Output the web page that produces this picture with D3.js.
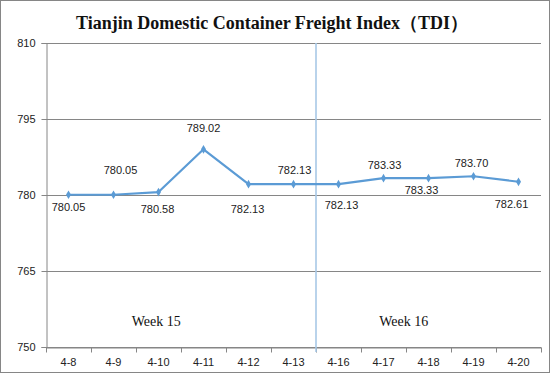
<!DOCTYPE html>
<html><head><meta charset="utf-8">
<script src="https://cdn.jsdelivr.net/npm/d3@7"></script>
<style>body{margin:0;background:#fff}svg{display:block}</style>
</head><body>
<svg id="c" width="552" height="377"></svg>
<script>
const categories = ["4-8","4-9","4-10","4-11","4-12","4-13","4-16","4-17","4-18","4-19","4-20"];
const values = [780.05,780.05,780.58,789.02,782.13,782.13,782.13,783.33,783.33,783.70,782.61];
const labelText = ["780.05","780.05","780.58","789.02","782.13","782.13","782.13","783.33","783.33","783.70","782.61"];
const yTicks = [750,765,780,795,810];
const weekLabels = ["Week 15","Week 16"];
const title = "Tianjin Domestic Container Freight Index（TDI）";
// label placement (pixels relative to point)
const labelDx = [0,7,-1,0,-1,1,3,1,-7,-2,-7];
const labelDy = [12,-25,17,-21,25,-14,21,-13,12,-13,22];

const svg = d3.select("#c");
const W=552,H=377;
const m={l:46,r:11,t:43,b:30};
svg.append("rect").attr("x",0.5).attr("y",0.5).attr("width",549).attr("height",372)
  .attr("fill","#fff").attr("stroke","#868686");

const x = d3.scaleBand().domain(categories).range([m.l, W-m.r]).padding(0);
const y = d3.scaleLinear().domain([750,810]).range([H-m.b, m.t]);

// gridlines
svg.append("g").selectAll("line").data(yTicks).join("line")
  .attr("x1",m.l).attr("x2",W-m.r).attr("y1",d=>Math.round(y(d))+0.5).attr("y2",d=>Math.round(y(d))+0.5)
  .attr("stroke","#868686").attr("stroke-width",1);

// y axis
const ya = svg.append("g").attr("transform",`translate(${m.l+0.5},0)`)
  .call(d3.axisLeft(y).tickValues(yTicks).tickSize(5).tickPadding(6).tickFormat(d3.format("d")));
ya.select(".domain").attr("stroke","#868686");
ya.selectAll(".tick line").attr("stroke","#868686");
ya.selectAll("text").attr("font-family","'Liberation Sans',Arial,sans-serif").attr("font-size",11).attr("fill","#222");
ya.selectAll(".tick").attr("transform",d=>`translate(0,${Math.round(y(d))+0.5})`);

// x axis
const xa = svg.append("g").attr("transform",`translate(0,${Math.round(y(750))+0.5})`)
  .call(d3.axisBottom(x).tickSize(0).tickPadding(11));
xa.select(".domain").attr("stroke","#868686");
xa.selectAll("text").attr("font-family","'Liberation Sans',Arial,sans-serif").attr("font-size",11).attr("fill","#222");
const bounds = categories.map(c=>x(c)).concat([x(categories[categories.length-1])+x.bandwidth()]);
xa.selectAll(".bt").data(bounds).join("line").attr("class","bt")
  .attr("x1",d=>Math.round(d)+0.5).attr("x2",d=>Math.round(d)+0.5).attr("y1",0).attr("y2",5)
  .attr("stroke","#868686");

// week divider
const divX = x("4-16");
svg.append("line").attr("x1",divX).attr("x2",divX).attr("y1",m.t).attr("y2",y(750)+5)
  .attr("stroke","#a8c8e6").attr("stroke-width",1.6);

// line
const cx = d=>x(d)+x.bandwidth()/2;
const pts = categories.map((c,i)=>[cx(c), y(values[i])]);
svg.append("path").attr("d",d3.line()(pts)).attr("fill","none")
  .attr("stroke","#5b9bd5").attr("stroke-width",2.2).attr("stroke-linejoin","round");
svg.append("g").selectAll("path").data(pts).join("path")
  .attr("transform",d=>`translate(${d[0]},${d[1]})`)
  .attr("d",d3.symbol(d3.symbolDiamond,22)())
  .attr("fill","#5b9bd5");

// data labels
svg.append("g").selectAll("text").data(pts).join("text")
  .attr("x",(d,i)=>d[0]+labelDx[i]).attr("y",(d,i)=>d[1]+labelDy[i])
  .attr("dy","0.35em").attr("text-anchor","middle")
  .attr("font-family","'Liberation Sans',Arial,sans-serif").attr("font-size",11).attr("fill","#222")
  .text((d,i)=>labelText[i]);

// week labels
const weekX = [x("4-10")+x.bandwidth()*0.45, x("4-18")-x.bandwidth()*0.05];
svg.append("g").selectAll("text").data(weekLabels).join("text")
  .attr("x",(d,i)=>weekX[i]).attr("y",321).attr("dy","0.35em").attr("text-anchor","middle")
  .attr("font-family","'Liberation Serif','Times New Roman',serif").attr("font-size",14).attr("fill","#111")
  .text(d=>d);

// title
svg.append("text").attr("x",272).attr("y",23).attr("dy","0.35em").attr("text-anchor","middle")
  .attr("font-family","'Liberation Serif','Times New Roman',serif").attr("font-weight","bold")
  .attr("font-size",18).attr("fill","#111").text(title);
</script>
</body></html>
